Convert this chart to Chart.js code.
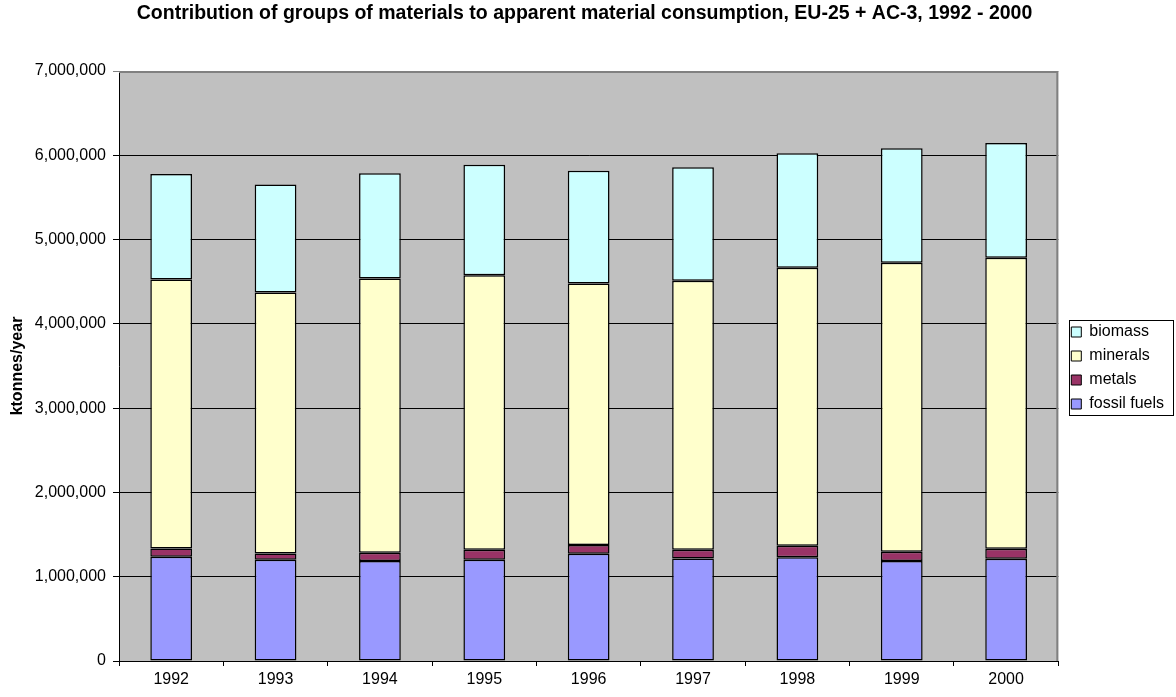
<!DOCTYPE html>
<html>
<head>
<meta charset="utf-8">
<script src="https://cdn.jsdelivr.net/npm/chart.js@4/dist/chart.umd.min.js"></script>
<style>
  html, body { margin: 0; padding: 0; background: #ffffff; }
  #wrap { width: 1176px; height: 697px; }
</style>
</head>
<body>
<div id="wrap"><canvas id="c" width="1176" height="697"></canvas></div>
<script>
const years = ['1992', '1993', '1994', '1995', '1996', '1997', '1998', '1999', '2000'];
const fossilFuels = [1236000, 1200000, 1185000, 1200000, 1271000, 1215000, 1232000, 1185000, 1212000];
const metals      = [98000, 75000, 98000, 119000, 104000, 104000, 134000, 110000, 119000];
const minerals    = [3193000, 3097000, 3255000, 3259000, 3104000, 3192000, 3300000, 3430000, 3453000];
const biomass     = [1251000, 1280000, 1248000, 1311000, 1339000, 1346000, 1358000, 1358000, 1362000];
const yTicks = [0, 1000000, 2000000, 3000000, 4000000, 5000000, 6000000, 7000000];

const FONT = '"Liberation Sans", Arial, sans-serif';

const frame = {
  id: 'frame',
  afterLayout(chart) {
    const lg = chart.legend;
    if (lg) { lg.left += 5; lg.right += 5; lg.top += 2; lg.bottom += 2; }
  },
  beforeDraw(chart) {
    const a = chart.chartArea, ctx = chart.ctx;
    ctx.save();
    ctx.fillStyle = '#C0C0C0';
    ctx.fillRect(a.left, a.top, a.right - a.left, a.bottom - a.top);
    ctx.restore();
  },
  afterDraw(chart) {
    const a = chart.chartArea, ctx = chart.ctx;
    ctx.save();
    ctx.strokeStyle = '#808080';
    ctx.lineWidth = 2;
    ctx.beginPath();
    ctx.moveTo(a.left, a.top + 1);
    ctx.lineTo(a.right - 1, a.top + 1);
    ctx.lineTo(a.right - 1, a.bottom);
    ctx.stroke();
    const lg = chart.legend;
    if (lg && lg.legendHitBoxes && lg.legendHitBoxes.length) {
      const hb = lg.legendHitBoxes;
      let l = Infinity, r = -Infinity, t = Infinity, b = -Infinity;
      hb.forEach(h => {
        l = Math.min(l, h.left); r = Math.max(r, h.left + h.width);
        t = Math.min(t, h.top); b = Math.max(b, h.top + h.height);
      });
      ctx.strokeStyle = '#000000';
      ctx.lineWidth = 1;
      const L = Math.round(l - 2) + 0.5, R = Math.round(r + 9) + 0.5;
      const T = Math.round(t - 4) + 0.5, B = Math.round(b + 3) + 0.5;
      ctx.strokeRect(L, T, R - L, B - T);
    }
    ctx.restore();
  }
};

const mk = (label, data, color) => ({
  label, data,
  backgroundColor: color,
  borderColor: '#000000',
  borderWidth: 1.5,
  borderSkipped: false,
  categoryPercentage: 1.0,
  barPercentage: 0.4
});

new Chart(document.getElementById('c'), {
  type: 'bar',
  data: {
    labels: years,
    datasets: [
      mk('fossil fuels', fossilFuels, '#9999FF'),
      mk('metals', metals, '#993366'),
      mk('minerals', minerals, '#FFFFCC'),
      mk('biomass', biomass, '#CCFFFF')
    ]
  },
  options: {
    responsive: false,
    animation: false,
    layout: { padding: { left: 0, right: 7, top: 0, bottom: 0 } },
    plugins: {
      title: {
        display: true,
        text: 'Contribution of groups of materials to apparent material consumption, EU-25 + AC-3, 1992 - 2000',
        color: '#000000',
        font: { family: FONT, size: 19.5, weight: 'bold', lineHeight: 1.2 },
        padding: { top: 2, bottom: 45.6 }
      },
      legend: {
        display: true,
        position: 'right',
        fullSize: false,
        reverse: true,
        labels: {
          color: '#000000',
          font: { family: FONT, size: 16 },
          boxWidth: 10,
          boxHeight: 10,
          padding: 8,
          generateLabels(chart) {
            return chart.data.datasets.map((ds, i) => ({
              text: ds.label,
              fillStyle: ds.backgroundColor,
              strokeStyle: '#000000',
              lineWidth: 1,
              hidden: false,
              datasetIndex: i,
              fontColor: '#000000'
            }));
          }
        }
      },
      tooltip: { enabled: false }
    },
    scales: {
      x: {
        stacked: true,
        afterFit(scale) { scale.height = 36; },
        border: { color: '#000000', width: 1 },
        grid: { offset: true, drawOnChartArea: false, drawTicks: true, tickLength: 5, color: '#000000' },
        ticks: { color: '#000000', font: { family: FONT, size: 16 }, padding: 4, maxRotation: 0, autoSkip: false }
      },
      y: {
        stacked: true,
        min: 0,
        max: 7000000,
        afterBuildTicks(scale) { scale.ticks = yTicks.map(v => ({ value: v })); },
        afterFit(scale) { scale.width = 119; },
        border: { color: '#000000', width: 1 },
        grid: {
          color: c => (c.tick && c.tick.value === 7000000 ? '#808080' : '#000000'),
          drawTicks: true, tickLength: 6, lineWidth: 1
        },
        ticks: {
          color: '#000000',
          font: { family: FONT, size: 16 },
          padding: 7,
          callback: v => Number(v).toLocaleString('en-US')
        },
        title: {
          display: true,
          text: 'ktonnes/year',
          color: '#000000',
          font: { family: FONT, size: 16, weight: 'bold' },
          padding: { top: 8, bottom: 0 }
        }
      }
    }
  },
  plugins: [frame]
});
</script>
</body>
</html>
